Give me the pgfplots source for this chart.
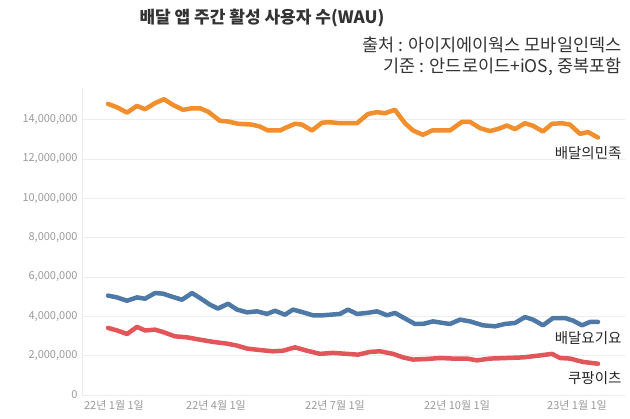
\documentclass[border=0pt]{standalone}
\usepackage{pgfplots}
\pgfplotsset{compat=1.18}
\usepackage{fontspec}
\setmainfont{Noto Sans CJK KR}

\definecolor{baemin}{HTML}{F28E2B}
\definecolor{yogiyo}{HTML}{4E79A7}
\definecolor{coupang}{HTML}{E15759}
\definecolor{ticktext}{HTML}{9A9A9A}

\begin{document}
\begin{tikzpicture}
\useasboundingbox (-82pt,-24pt) rectangle (548pt,395pt);

% titles
\node[font=\bfseries\fontsize{17}{19}\selectfont, text=black!80] at (180pt,377pt) {배달 앱 주간 활성 사용자 수(WAU)};
\node[anchor=east, font=\fontsize{17.5}{19}\selectfont, text=black!80] at (543pt,350pt) {출처 : 아이지에이웍스 모바일인덱스};
\node[anchor=east, font=\fontsize{17.5}{19}\selectfont, text=black!80] at (543pt,328pt) {기준 : 안드로이드+iOS, 중복포함};

\begin{axis}[
    at={(0,0)}, anchor=south west,
    scale only axis,
    width=543pt, height=307pt,
    xmin=82, xmax=625,
    ymin=0, ymax=15.6,
    clip=false,
    axis x line*=bottom, axis y line*=left,
    x axis line style={draw=none},
    y axis line style={draw=black!8},
    major tick length=0pt,
    ymajorgrids,
    grid style={black!7, line width=0.6pt},
    xtick={114,216,335,457,577},
    xticklabels={22년 1월 1일, 22년 4월 1일, 22년 7월 1일, 22년 10월 1일, 23년 1월 1일},
    ytick={0,2,...,14},
    yticklabels={0,{2,000,000},{4,000,000},{6,000,000},{8,000,000},{10,000,000},{12,000,000},{14,000,000}},
    tick label style={text=ticktext, font=\fontsize{11}{13}\selectfont},
    xticklabel style={yshift=-2pt},
    yticklabel style={xshift=-1pt},
    every axis plot/.append style={line width=4.5pt, line join=round, line cap=round, mark=none},
]

% 배달의민족
\addplot[baemin] coordinates {
    (108,14.79) (117,14.62) (127,14.35) (137,14.69) (145,14.52) (155,14.83) (164,15.03) (173,14.74)
    (183,14.49) (192,14.57) (200,14.57) (208,14.40) (220,13.93) (228,13.90) (238,13.78) (252,13.74)
    (260,13.64) (268,13.44) (280,13.44) (287,13.61) (295,13.78) (302,13.74) (312,13.44) (322,13.84)
    (330,13.86) (340,13.81) (357,13.81) (368,14.28) (377,14.37) (385,14.32) (395,14.49) (405,13.81)
    (413,13.44) (423,13.22) (432,13.44) (450,13.44) (462,13.88) (470,13.88) (480,13.56) (490,13.41)
    (498,13.52) (507,13.69) (515,13.51) (525,13.81) (533,13.68) (543,13.39) (552,13.78) (562,13.81)
    (570,13.74) (580,13.27) (588,13.36) (598,13.08)
};

% 배달요기요
\addplot[yogiyo] coordinates {
    (108,5.05) (117,4.96) (127,4.79) (137,4.96) (145,4.89) (155,5.18) (163,5.15) (173,4.98)
    (182,4.84) (192,5.18) (200,4.93) (210,4.59) (218,4.39) (228,4.64) (237,4.34) (247,4.20)
    (257,4.25) (267,4.12) (275,4.28) (285,4.08) (293,4.34) (303,4.20) (313,4.05) (323,4.05)
    (340,4.12) (348,4.34) (357,4.12) (367,4.17) (377,4.25) (387,4.05) (395,4.17) (407,3.83)
    (415,3.61) (423,3.61) (433,3.74) (443,3.66) (450,3.61) (460,3.83) (470,3.74) (483,3.54)
    (495,3.49) (505,3.61) (515,3.66) (525,3.96) (533,3.83) (543,3.54) (553,3.91) (565,3.91)
    (573,3.78) (582,3.54) (590,3.71) (598,3.71)
};

% 쿠팡이츠
\addplot[coupang] coordinates {
    (108,3.41) (117,3.28) (127,3.10) (137,3.46) (145,3.28) (155,3.32) (163,3.20) (175,2.98)
    (187,2.93) (200,2.81) (213,2.70) (227,2.61) (237,2.51) (247,2.36) (257,2.30) (273,2.22)
    (283,2.25) (295,2.42) (307,2.25) (320,2.09) (333,2.14) (347,2.09) (358,2.05) (370,2.19)
    (380,2.22) (393,2.09) (403,1.91) (413,1.80) (427,1.83) (440,1.88) (453,1.85) (467,1.85)
    (477,1.76) (490,1.85) (507,1.88) (523,1.91) (540,2.01) (552,2.09) (560,1.88) (570,1.85)
    (583,1.68) (598,1.59)
};

\node[anchor=east, font=\fontsize{14.5}{16}\selectfont, text=black!85] at (axis cs:625,12.28) {배달의민족};
\node[anchor=east, font=\fontsize{14.5}{16}\selectfont, text=black!85] at (axis cs:625,2.89) {배달요기요};
\node[anchor=east, font=\fontsize{14.5}{16}\selectfont, text=black!85] at (axis cs:625,0.86) {쿠팡이츠};
\end{axis}
\end{tikzpicture}
\end{document}
